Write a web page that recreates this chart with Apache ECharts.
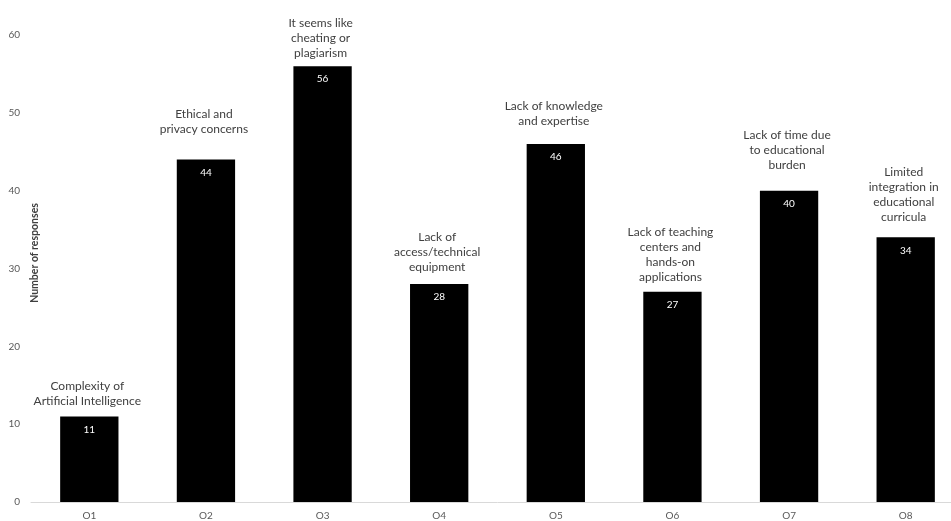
<!DOCTYPE html>
<html>
<head>
<meta charset="utf-8">
<script src="https://cdn.jsdelivr.net/npm/echarts@6/dist/echarts.min.js"></script>
<style>
  html, body { margin: 0; padding: 0; background: #fff; overflow: hidden; }
  #chart { width: 964px; height: 521px; }
</style>
</head>
<body>
<div id="chart"></div>
<script>
// Obstacles reported, number of responses per option
const categories = ['O1', 'O2', 'O3', 'O4', 'O5', 'O6', 'O7', 'O8'];
const responses = [11, 44, 56, 28, 46, 27, 40, 34];
const descriptions = [
  'Complexity of\nArtificial Intelligence',
  'Ethical and\nprivacy concerns',
  'It seems like\ncheating or\nplagiarism',
  'Lack of\naccess/technical\nequipment',
  'Lack of knowledge\nand expertise',
  'Lack of teaching\ncenters and\nhands-on\napplications',
  'Lack of time due\nto educational\nburden',
  'Limited\nintegration in\neducational\ncurricula'
];
const yTicks = [0, 10, 20, 30, 40, 50, 60];

// gap between each bar top and its description block
const descGap = [8, 23, 6, 9, 15, 7, 18, 13];

const chart = echarts.init(document.getElementById('chart'), null, { renderer: 'canvas' });

const font = 'Lato, "Open Sans", "Noto Sans", sans-serif';

chart.setOption({
  animation: false,
  backgroundColor: '#ffffff',
  grid: { left: 31, top: 35, bottom: 18, right: 0, containLabel: false },
  xAxis: {
    type: 'category',
    data: categories,
    axisLine: { show: true, lineStyle: { color: '#d9d9d9', width: 1 } },
    axisTick: { show: false },
    axisLabel: { color: '#595959', fontSize: 10, fontFamily: font, margin: 9 }
  },
  yAxis: {
    type: 'value',
    min: yTicks[0],
    max: yTicks[yTicks.length - 1],
    interval: 10,
    splitLine: { show: false },
    axisLine: { show: false },
    axisTick: { show: false },
    axisLabel: { color: '#595959', fontSize: 10, fontFamily: font, margin: 11 }
  },
  graphic: [{
    type: 'text',
    x: 35,
    y: 253,
    rotation: Math.PI / 2,
    style: {
      text: 'Number of responses',
      fill: '#404040',
      font: 'bold 10.5px ' + font,
      textAlign: 'center',
      textVerticalAlign: 'middle'
    }
  }],
  series: [
    {
      type: 'bar',
      data: responses,
      barWidth: '50%',
      itemStyle: { color: '#000000' },
      label: {
        show: true,
        position: 'insideTop',
        distance: 8,
        color: '#ffffff',
        fontSize: 10,
        fontFamily: font
      },
      silent: true
    },
    {
      type: 'bar',
      data: responses.map((v, i) => ({
        value: v,
        label: {
          formatter: descriptions[i],
          distance: descGap[i]
        }
      })),
      barWidth: '50%',
      barGap: '-100%',
      itemStyle: { color: 'rgba(0,0,0,0)' },
      label: {
        show: true,
        position: 'top',
        offset: [-2, 0],
        color: '#404040',
        fontSize: 12,
        lineHeight: 15,
        fontFamily: font,
        align: 'center'
      },
      silent: true
    }
  ]
});
</script>
</body>
</html>
